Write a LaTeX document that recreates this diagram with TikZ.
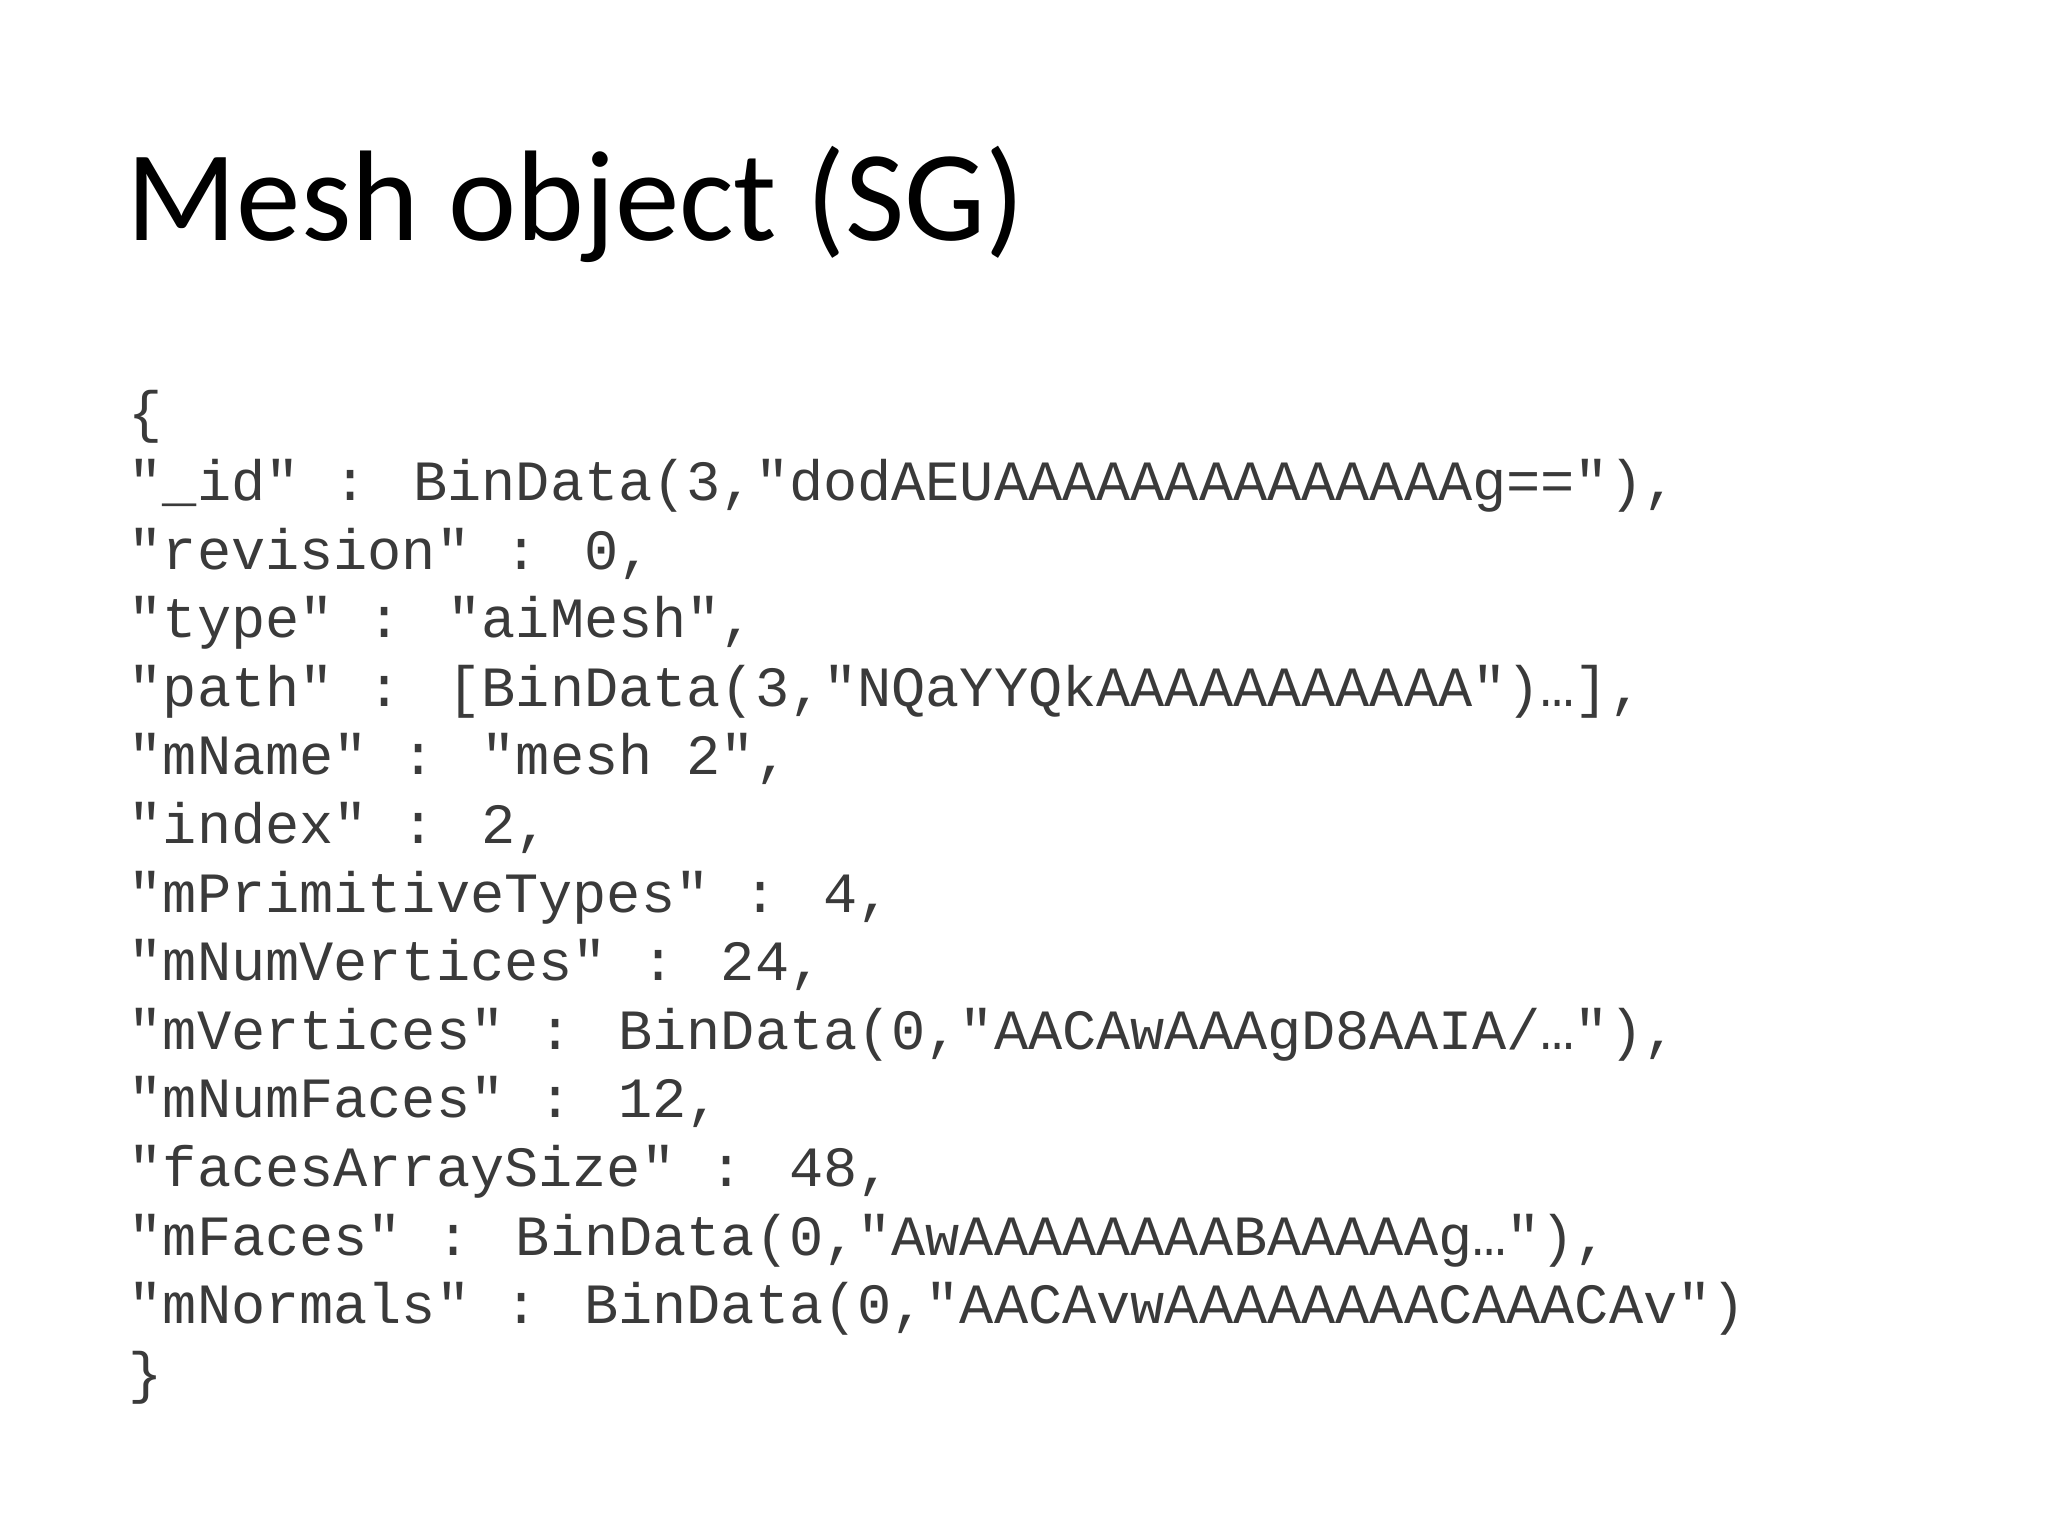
\documentclass[tikz,border=0pt]{standalone}
\usepackage{fontspec}
\setmainfont{Carlito}
\newfontfamily\codefont{Liberation Mono}
\definecolor{codegray}{HTML}{3A3A3A}
\begin{document}
\begin{tikzpicture}[x=1cm,y=1cm,
  codeline/.style={anchor=base west,inner sep=0pt,text=codegray,font=\codefont\fontsize{16.2pt}{19.5pt}\selectfont}]
\useasboundingbox (0,0) rectangle (20.48,15.36);
\fill[white] (0,0) rectangle (20.48,15.36);
\node[anchor=base west,inner sep=0pt,font=\fontsize{36.7pt}{44pt}\selectfont] (title) at (1.26,12.95) {Mesh object (SG)};
\def\yy#1{15.36-4.32-#1*0.686}
\node[codeline] (l0) at (1.28,{\yy{0}}) {\{};
\node[codeline] (l1) at (1.28,{\yy{1}}) {"\_id" : BinData(3,"dodAEUAAAAAAAAAAAAAAg=="),};
\node[codeline] (l2) at (1.28,{\yy{2}}) {"revision" : 0,};
\node[codeline] (l3) at (1.28,{\yy{3}}) {"type" : "aiMesh",};
\node[codeline] (l4) at (1.28,{\yy{4}}) {"path" : [BinData(3,"NQaYYQkAAAAAAAAAAA")…],};
\node[codeline] (l5) at (1.28,{\yy{5}}) {"mName" : "mesh 2",};
\node[codeline] (l6) at (1.28,{\yy{6}}) {"index" : 2,};
\node[codeline] (l7) at (1.28,{\yy{7}}) {"mPrimitiveTypes" : 4,};
\node[codeline] (l8) at (1.28,{\yy{8}}) {"mNumVertices" : 24,};
\node[codeline] (l9) at (1.28,{\yy{9}}) {"mVertices" : BinData(0,"AACAwAAAgD8AAIA/…"),};
\node[codeline] (l10) at (1.28,{\yy{10}}) {"mNumFaces" : 12,};
\node[codeline] (l11) at (1.28,{\yy{11}}) {"facesArraySize" : 48,};
\node[codeline] (l12) at (1.28,{\yy{12}}) {"mFaces" : BinData(0,"AwAAAAAAAABAAAAAg…"),};
\node[codeline] (l13) at (1.28,{\yy{13}}) {"mNormals" : BinData(0,"AACAvwAAAAAAAACAAACAv")};
\node[codeline] (l14) at (1.28,{\yy{14}}) {\}};
\end{tikzpicture}
\end{document}
